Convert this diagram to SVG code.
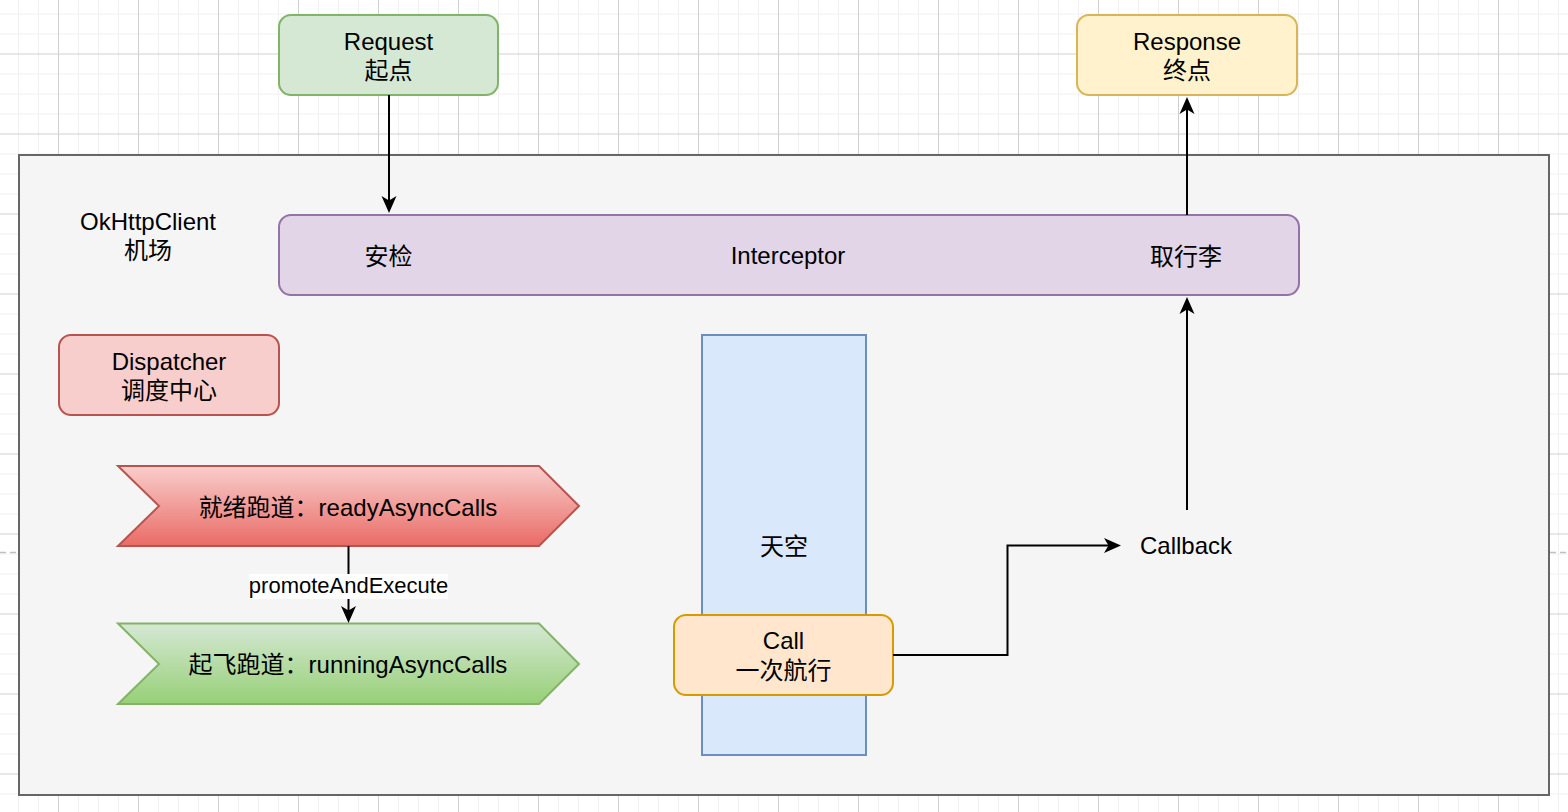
<svg xmlns="http://www.w3.org/2000/svg" width="1568" height="812" viewBox="0 0 1568 812">
<style>
  text { font-family: "Liberation Sans", "Noto Sans CJK SC", sans-serif; font-size: 24px; fill: #000; text-anchor: middle; }
  .lbl { font-size: 22px; }
  .conn { fill: none; stroke: #000; stroke-width: 2; }
  .box { stroke-width: 2; }
</style>
<defs>
  <pattern id="grid" patternUnits="userSpaceOnUse" x="18" y="13.5" width="80" height="80">
    <rect width="80" height="80" fill="#ffffff"/>
    <path d="M0.5,0 V80 M20.5,0 V80 M60.5,0 V80 M0,0.5 H80 M0,20.5 H80 M0,60.5 H80" stroke="#f0f0f0" stroke-width="1"/>
    <path d="M40.5,0 V80 M0,40.5 H80" stroke="#d0d0d0" stroke-width="1"/>
  </pattern>
  <linearGradient id="gRed" x1="0" y1="0" x2="0" y2="1">
    <stop offset="0" stop-color="#f8cecc"/>
    <stop offset="1" stop-color="#ea6b66"/>
  </linearGradient>
  <linearGradient id="gGreen" x1="0" y1="0" x2="0" y2="1">
    <stop offset="0" stop-color="#d5e8d4"/>
    <stop offset="1" stop-color="#97d077"/>
  </linearGradient>
  <marker id="arr" markerUnits="userSpaceOnUse" viewBox="0 0 18 16" markerWidth="18" markerHeight="16" refX="12" refY="8" orient="auto">
    <path d="M0,0.5 L17,8 L0,15.5 L4.5,8 Z" fill="#000"/>
  </marker>
</defs>

<rect x="0" y="0" width="1568" height="812" fill="url(#grid)"/>
<line x1="0" y1="552.5" x2="1568" y2="552.5" stroke="#c0c0c0" stroke-width="1.5" stroke-dasharray="6 4"/>

<g id="okhttpclient">
  <rect x="19" y="155" width="1530" height="640" fill="#f5f5f5" stroke="#666666" stroke-width="2"/>
  <text x="148" y="230">OkHttpClient</text>
  <text x="148" y="259">机场</text>
</g>

<g id="request">
  <rect class="box" x="279" y="15" width="219" height="80" rx="12" fill="#d5e8d4" stroke="#82b366"/>
  <text x="388.5" y="50">Request</text>
  <text x="388.5" y="79">起点</text>
</g>

<g id="response">
  <rect class="box" x="1077" y="15" width="220" height="80" rx="12" fill="#fff2cc" stroke="#d6b656"/>
  <text x="1187" y="50">Response</text>
  <text x="1187" y="79">终点</text>
</g>

<g id="interceptor">
  <rect class="box" x="279" y="215" width="1020" height="80" rx="12" fill="#e1d5e7" stroke="#9673a6"/>
  <text x="388.5" y="265">安检</text>
  <text x="788" y="264">Interceptor</text>
  <text x="1186" y="265">取行李</text>
</g>

<g id="dispatcher">
  <rect class="box" x="59" y="335" width="220" height="80" rx="12" fill="#f8cecc" stroke="#b85450"/>
  <text x="169" y="370">Dispatcher</text>
  <text x="169" y="399">调度中心</text>
</g>

<g id="readyAsyncCalls">
  <path class="box" d="M118,466 H539 L579,506 L539,546 H118 L159,506 Z" fill="url(#gRed)" stroke="#b85450"/>
  <text x="348" y="516">就绪跑道：readyAsyncCalls</text>
</g>

<g id="runningAsyncCalls">
  <path class="box" d="M118,623.5 H539 L579,664 L539,704 H118 L159,664 Z" fill="url(#gGreen)" stroke="#82b366"/>
  <text x="348" y="673">起飞跑道：runningAsyncCalls</text>
</g>

<g id="sky">
  <rect class="box" x="702" y="335" width="164" height="420" fill="#dae8fc" stroke="#6c8ebf"/>
  <text x="784" y="555">天空</text>
</g>

<g id="call">
  <rect class="box" x="674" y="615" width="219" height="80" rx="12" fill="#ffe6cc" stroke="#d79b00"/>
  <text x="783.5" y="649">Call</text>
  <text x="783.5" y="679">一次航行</text>
</g>

<g id="callback">
  <text x="1186" y="554">Callback</text>
</g>

<g id="connectors">
  <path class="conn" d="M389,95 V208" marker-end="url(#arr)"/>
  <path class="conn" d="M1187,215 V102" marker-end="url(#arr)"/>
  <path class="conn" d="M1187,510 V302" marker-end="url(#arr)"/>
  <path class="conn" d="M893,655 H1007.5 V545.5 H1116" marker-end="url(#arr)"/>
  <path class="conn" d="M348.5,546 V618" marker-end="url(#arr)"/>
  <rect x="249" y="574" width="199" height="25" fill="#ffffff"/>
  <text class="lbl" x="348.5" y="593">promoteAndExecute</text>
</g>
</svg>
